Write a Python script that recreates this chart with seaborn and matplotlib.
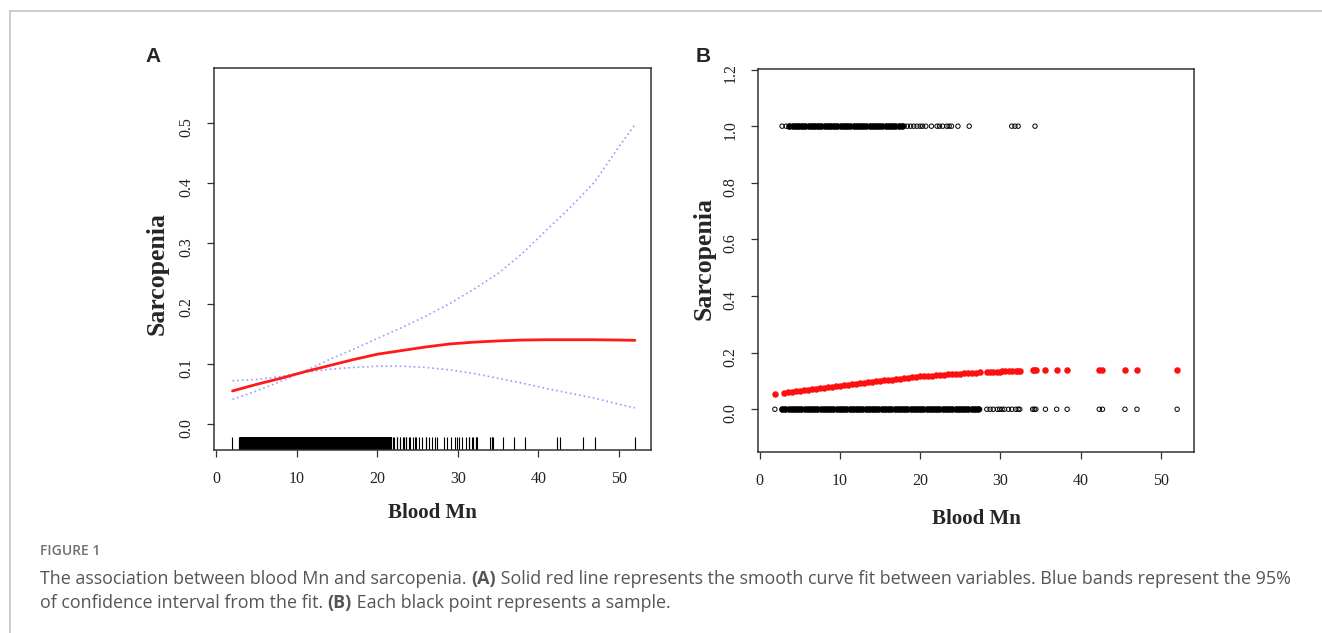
import matplotlib
matplotlib.use("Agg")
import matplotlib.pyplot as plt
import seaborn as sns
import pandas as pd
from matplotlib.lines import Line2D
from matplotlib.ticker import FormatStrFormatter

# smooth curve fit (panel A)
fit_x = [2, 5, 8, 11, 14, 17, 20, 23, 26, 29, 32, 35, 38, 41, 44, 47, 50, 52]
fit_y = [0.055, 0.066, 0.076, 0.087, 0.097, 0.107, 0.116, 0.122, 0.128, 0.133,
         0.136, 0.138, 0.1395, 0.140, 0.140, 0.140, 0.1395, 0.139]
# the two dotted 95% CI lines
ci_hump = [0.072, 0.074, 0.079, 0.086, 0.091, 0.094, 0.096, 0.096, 0.094, 0.090,
           0.084, 0.076, 0.068, 0.059, 0.051, 0.043, 0.033, 0.027]
ci_rise = [0.041, 0.055, 0.071, 0.088, 0.107, 0.124, 0.142, 0.160, 0.179, 0.200,
           0.224, 0.250, 0.283, 0.322, 0.360, 0.402, 0.460, 0.497]

# samples without sarcopenia (y = 0)
mn_no_dense = [2.8, 3.2, 3.6, 4.0, 4.4, 4.8, 5.2, 5.6, 6.0, 6.4, 6.8, 7.2, 7.6, 8.0,
               8.4, 8.8, 9.2, 9.6, 10.0, 10.4, 10.8, 11.2, 11.6, 12.0, 12.4, 12.8,
               13.2, 13.6, 14.0, 14.4, 14.8, 15.2, 15.6, 16.0, 16.4, 16.8, 17.2,
               17.6, 18.0, 18.4, 18.8, 19.2, 19.6, 20.0, 20.4, 20.8, 21.2, 21.6,
               22.0, 22.4, 22.8, 23.2, 23.6, 24.0, 24.4, 24.8, 25.2, 25.6, 26.0,
               26.4, 26.8, 27.2]
mn_no_sparse = [1.9, 27.4, 28.3, 28.7, 29.1, 29.6, 29.9, 30.2, 30.5, 31.0, 31.4,
                31.9, 32.2, 32.4, 34.0, 34.2, 34.4, 35.6, 37.0, 38.3, 42.3, 42.7,
                45.5, 47.0, 52.0]
# samples with sarcopenia (y = 1)
mn_yes_dense = [3.7, 4.1, 4.5, 4.9, 5.3, 5.7, 6.1, 6.5, 6.9, 7.3, 7.7, 8.1, 8.5,
                8.9, 9.3, 9.7, 10.1, 10.5, 10.9, 11.3, 11.7, 12.1, 12.5, 12.9,
                13.3, 13.7, 14.1, 14.5, 14.9, 15.3, 15.7, 16.1, 16.5, 16.9, 17.3,
                17.7]
mn_yes_sparse = [2.8, 3.3, 18.0, 18.4, 18.8, 19.2, 19.6, 20.0, 20.3, 20.7, 21.4,
                 22.1, 22.4, 22.8, 23.3, 23.6, 23.9, 24.7, 26.1, 31.4, 31.8, 32.2,
                 34.3]

# predicted probability for each sample (panel B, red points)
pred_x = [1.9, 3.0, 3.5, 4.0, 4.5, 5.0, 5.5, 6.0, 6.5, 7.0, 7.5, 8.0, 8.5, 9.0,
          9.5, 10.0, 10.5, 11.0, 11.5, 12.0, 12.5, 13.0, 13.5, 14.0, 14.5, 15.0,
          15.5, 16.0, 16.5, 17.0, 17.5, 18.0, 18.5, 19.0, 19.5, 20.0, 20.5, 21.0,
          21.5, 22.0, 22.5, 23.0, 23.5, 24.0, 24.5, 25.0, 25.5, 26.0, 26.5, 27.0,
          27.5, 28.3, 28.7, 29.1, 29.6, 29.9, 30.2, 30.5, 31.0, 31.4, 31.9, 32.2,
          32.4, 34.0, 34.2, 34.4, 35.6, 37.0, 38.3, 42.3, 42.7, 45.5, 47.0, 52.0]
pred_y = [0.055, 0.058, 0.060, 0.062, 0.064, 0.066, 0.068, 0.069, 0.071, 0.073,
          0.075, 0.076, 0.078, 0.080, 0.081, 0.083, 0.085, 0.087, 0.089, 0.090,
          0.092, 0.094, 0.096, 0.097, 0.099, 0.101, 0.102, 0.104, 0.105, 0.107,
          0.108, 0.110, 0.111, 0.113, 0.114, 0.116, 0.117, 0.118, 0.119, 0.120,
          0.121, 0.122, 0.123, 0.124, 0.125, 0.126, 0.127, 0.128, 0.129, 0.129,
          0.130, 0.131, 0.132, 0.132, 0.133, 0.133, 0.134, 0.134, 0.135, 0.135,
          0.136, 0.136, 0.136, 0.138, 0.138, 0.138, 0.139, 0.139, 0.140, 0.140,
          0.140, 0.140, 0.140, 0.140]

sns.set_style("ticks")
plt.rcParams['font.family'] = ['Liberation Serif', 'DejaVu Serif']

SERIF = 'Liberation Serif'
BOX = '#333333'

fig = plt.figure(figsize=(13.22, 6.33), dpi=100)
axA = fig.add_axes([214 / 1322, 1 - 450 / 633, 437 / 1322, 382 / 633])
axB = fig.add_axes([758 / 1322, 1 - 452 / 633, 436 / 1322, 383 / 633])

# ---- panel A
fit_df = pd.DataFrame({'mn': fit_x, 'fit': fit_y, 'lo': ci_hump, 'hi': ci_rise})
for col in ['lo', 'hi']:
    sns.lineplot(data=fit_df, x='mn', y=col, ax=axA, color='#9a9aff', lw=1.2,
                 linestyle=(0, (1, 1.8)), estimator=None, sort=False)
sns.lineplot(data=fit_df, x='mn', y='fit', ax=axA, color='#ff1a1a', lw=2.0,
             estimator=None, sort=False)

all_mn = sorted(mn_no_dense + mn_no_sparse + mn_yes_dense + mn_yes_sparse)
rug_thick = [v for v in all_mn if 2.9 < v < 21.7]
rug_thin = [v for v in all_mn if not (2.9 < v < 21.7)]
sns.rugplot(x=rug_thick, ax=axA, height=0.034, color='black', linewidth=3.0)
sns.rugplot(x=rug_thin, ax=axA, height=0.034, color='black', linewidth=0.8)

axA.set_xlim(-0.3, 54.0)
axA.set_ylim(-0.043, 0.591)
axA.set_xticks([0, 10, 20, 30, 40, 50])
axA.set_yticks([0.0, 0.1, 0.2, 0.3, 0.4, 0.5])

# ---- panel B
dense = pd.DataFrame({'mn': mn_no_dense + mn_yes_dense,
                      'sarc': [0] * len(mn_no_dense) + [1] * len(mn_yes_dense)})
sparse = pd.DataFrame({'mn': mn_no_sparse + mn_yes_sparse,
                       'sarc': [0] * len(mn_no_sparse) + [1] * len(mn_yes_sparse)})
pred = pd.DataFrame({'mn': pred_x, 'p': pred_y})
# overlapping circles read as a solid band where samples are dense
sns.scatterplot(data=dense, x='mn', y='sarc', ax=axB, marker='o', s=16,
                color='black', edgecolor='black', linewidth=0.8)
sns.scatterplot(data=sparse, x='mn', y='sarc', ax=axB, marker='o', s=10,
                facecolors='none', edgecolors='black', linewidth=0.7)
sns.scatterplot(data=pred, x='mn', y='p', ax=axB, color='#ff1010', s=22,
                linewidth=0)

axB.set_xlim(-0.2, 54.1)
axB.set_ylim(-0.151, 1.202)
axB.set_xticks([0, 10, 20, 30, 40, 50])
axB.set_yticks([0.0, 0.2, 0.4, 0.6, 0.8, 1.0, 1.2])

for ax in (axA, axB):
    for sp in ax.spines.values():
        sp.set_visible(True)
        sp.set_color(BOX)
        sp.set_linewidth(1.1)
    ax.tick_params(direction='out', length=5, width=0.9, color=BOX,
                   labelsize=11.5, labelcolor='#222222')
    ax.tick_params(axis='x', pad=10)
    ax.tick_params(axis='y', labelrotation=90, pad=9)
    ax.yaxis.set_major_formatter(FormatStrFormatter('%.1f'))
    for lab in ax.get_xticklabels() + ax.get_yticklabels():
        lab.set_family(SERIF)
    ax.set_xlabel('Blood Mn', fontsize=15, fontweight='bold', family=SERIF)
    ax.set_ylabel('Sarcopenia', fontsize=18.5, fontweight='bold', family=SERIF)

axA.xaxis.set_label_coords(0.5, -0.14)
axA.yaxis.set_label_coords(-0.103, 0.462)
axB.xaxis.set_label_coords(0.5, -0.15)
axB.yaxis.set_label_coords(-0.098, 0.505)

fig.text(153 / 1322, 1 - 56 / 633, 'A', ha='center', va='center',
         fontsize=15, fontweight='bold', family='Liberation Sans')
fig.text(703 / 1322, 1 - 56 / 633, 'B', ha='center', va='center',
         fontsize=15, fontweight='bold', family='Liberation Sans')

# outer frame (left and top)
fig.add_artist(Line2D([9.5 / 1322, 9.5 / 1322], [0, 1 - 11 / 633],
                      transform=fig.transFigure, color='#c4c4c4', lw=1.2))
fig.add_artist(Line2D([9.5 / 1322, 1], [1 - 11 / 633, 1 - 11 / 633],
                      transform=fig.transFigure, color='#c4c4c4', lw=1.2))

# caption
CAP = 'Open Sans'
fig.text(40 / 1322, 1 - 555 / 633, 'FIGURE 1', fontsize=10, color='#707070',
         family=CAP, fontweight='semibold', va='baseline')

renderer = fig.canvas.get_renderer()


def caption_line(pieces, y_px):
    x = 40
    for txt, weight in pieces:
        t = fig.text(x / 1322, 1 - y_px / 633, txt, fontsize=12.85, color='#555555',
                     family=CAP, fontweight=weight, va='baseline')
        x += t.get_window_extent(renderer).width


caption_line([('The association between blood Mn and sarcopenia. ', 'normal'),
              ('(A)', 'bold'),
              (' Solid red line represents the smooth curve fit between variables. '
               'Blue bands represent the 95%', 'normal')], 584)
caption_line([('of confidence interval from the fit. ', 'normal'),
              ('(B)', 'bold'),
              (' Each black point represents a sample.', 'normal')], 608)

fig.savefig('out.png', dpi=100)
